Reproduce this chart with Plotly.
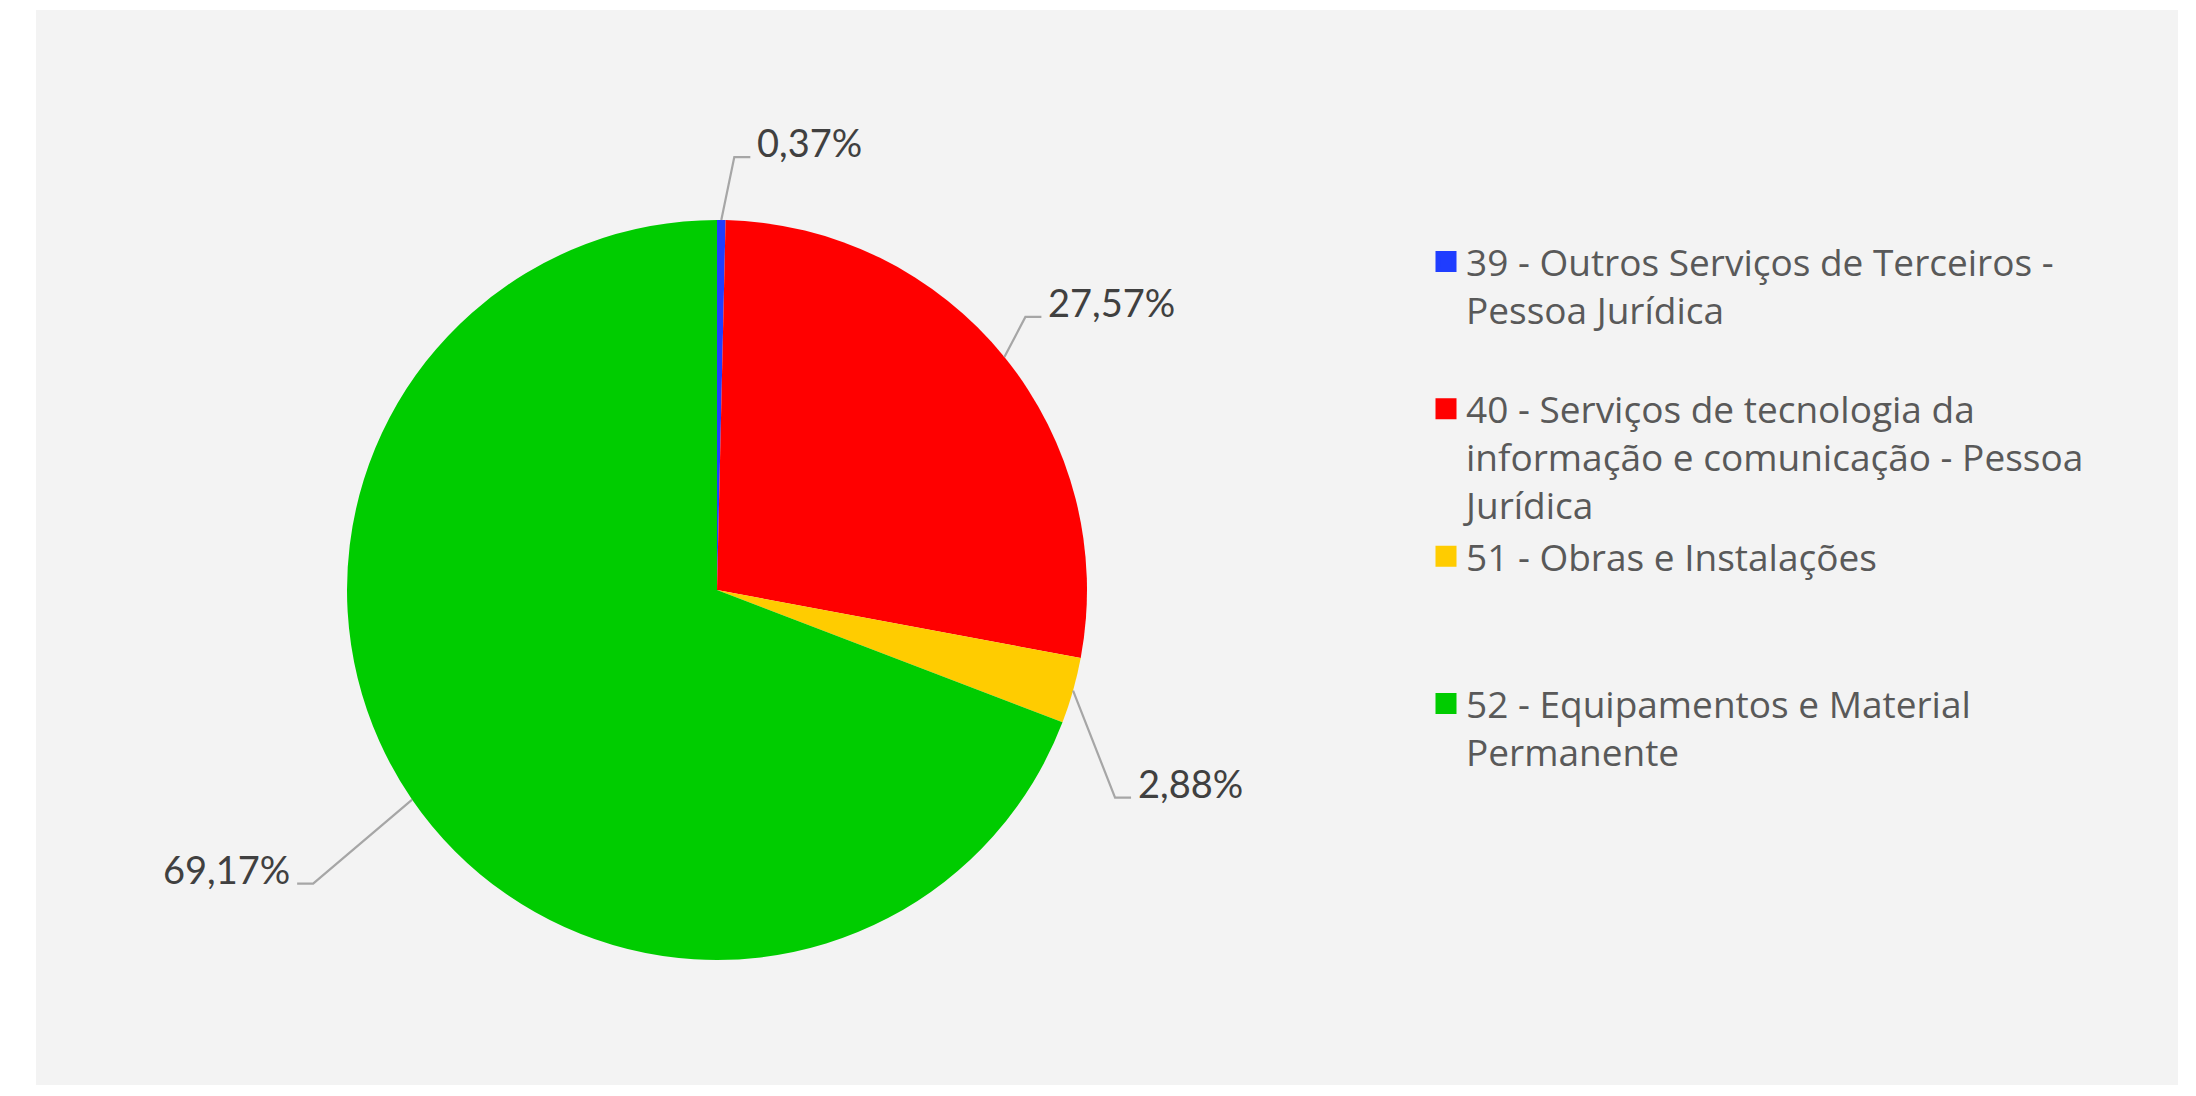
import math
import plotly.graph_objects as go

# ---- data ----
categories = [
    "39 - Outros Serviços de Terceiros - Pessoa Jurídica",
    "40 - Serviços de tecnologia da informação e comunicação - Pessoa Jurídica",
    "51 - Obras e Instalações",
    "52 - Equipamentos e Material Permanente",
]
legend_labels = [
    "39 - Outros Serviços de Terceiros -<br>Pessoa Jurídica<br>\u00a0",
    "40 - Serviços de tecnologia da<br>informação e comunicação - Pessoa<br>Jurídica",
    "51 - Obras e Instalações<br>\u00a0<br>\u00a0",
    "52 - Equipamentos e Material<br>Permanente<br>\u00a0",
]
percent_values = [0.37, 27.57, 2.88, 69.17]
colors = ["#1f3dff", "#ff0000", "#ffcc00", "#00cc00"]

# ---- layout constants (pixels) ----
W, H = 2196, 1096
CX, CY, R = 717, 590, 370
# label leader-line elbow offsets (dx, dy) from slice edge and side of text
label_offsets = [(13, -63, 1), (21, -40, 1), (42, 107, 1), (-99, 84, -1)]
LABEL_FONT = 38


def px(x):
    return x / W


def py(y):
    return 1 - y / H


fig = go.Figure()
fig.add_trace(go.Pie(
    labels=categories,
    values=percent_values,
    hovertemplate="%{label}<br>%{value}%<extra></extra>",
    marker=dict(colors=colors, line=dict(width=0)),
    sort=False,
    direction="clockwise",
    rotation=0,
    textinfo="none",
    showlegend=False,
    domain=dict(x=[px(CX - R), px(CX + R)], y=[py(CY + R), py(CY - R)]),
))

# legend entries (square keys) for each category
for name, col in zip(legend_labels, colors):
    fig.add_trace(go.Scatter(
        x=[None], y=[None], mode="markers", name=name,
        marker=dict(symbol="square", size=24, color=col, line=dict(width=5, color=col)),
        hoverinfo="skip",
    ))

shapes = [dict(type="rect", xref="paper", yref="paper",
               x0=px(36), x1=px(2178), y0=py(1085), y1=py(10),
               fillcolor="#f3f3f3", line=dict(width=0), layer="below")]
annotations = []
total = sum(percent_values)
cum = 0.0
for v, (dx, dy, side) in zip(percent_values, label_offsets):
    mid = (cum + v / 2) / total * 2 * math.pi
    cum += v
    ex = CX + R * math.sin(mid)
    ey = CY - R * math.cos(mid)
    kx, ky = ex + dx, ey + dy
    hx = kx + 16 * side
    shapes.append(dict(
        type="path", xref="paper", yref="paper",
        path=f"M{px(ex)},{py(ey)} L{px(kx)},{py(ky)} L{px(hx)},{py(ky)}",
        line=dict(color="#a6a6a6", width=2.2), layer="above"))
    txt = f"{v:.2f}".replace(".", ",") + "%"
    annotations.append(dict(
        x=px(hx + 5 * side), y=py(ky - 15), xref="paper", yref="paper",
        text=txt, showarrow=False,
        xanchor="left" if side > 0 else "right", yanchor="middle",
        font=dict(family="Lato", size=LABEL_FONT, color="#404040")))

fig.update_layout(
    width=W, height=H,
    margin=dict(l=0, r=0, t=0, b=0),
    paper_bgcolor="#ffffff",
    plot_bgcolor="rgba(0,0,0,0)",
    xaxis=dict(visible=False),
    yaxis=dict(visible=False),
    shapes=shapes,
    annotations=annotations,
    showlegend=True,
    legend=dict(
        x=px(1426), y=py(231), xanchor="left", yanchor="top",
        valign="top", bgcolor="rgba(0,0,0,0)",
        font=dict(family="Open Sans", size=37, color="#595959"),
        traceorder="normal",
    ),
)

fig.write_html("out.html",
               config={"displayModeBar": False},
               post_script="document.body.style.margin='0';document.body.style.overflow='hidden';")
